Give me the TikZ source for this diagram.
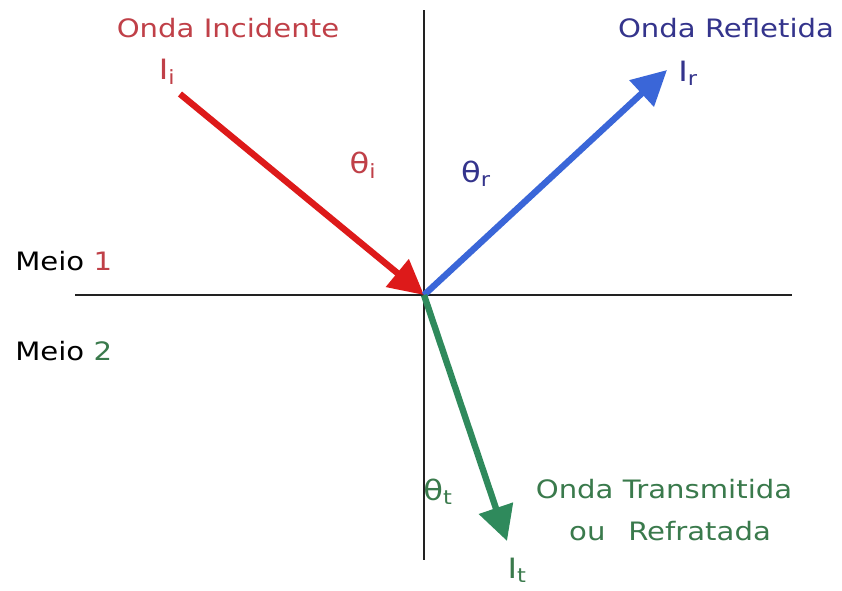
\documentclass[tikz,border=0pt]{standalone}
\usepackage{fontspec}
\setmainfont[FakeStretch=1.15]{DejaVu Sans}
\usetikzlibrary{arrows.meta}
\definecolor{rarrow}{HTML}{DD1A1A}
\definecolor{barrow}{HTML}{3A66D8}
\definecolor{garrow}{HTML}{2F8A5C}
\definecolor{rtext}{HTML}{C04048}
\definecolor{btext}{HTML}{34348C}
\definecolor{gtext}{HTML}{3A7A4C}
\definecolor{axis}{HTML}{222222}
\begin{document}
\begin{tikzpicture}[x=0.75pt,y=-0.75pt,
  axisline/.style={draw=axis,line width=1.5pt},
  ray/.style={line width=4.8pt,-{Triangle[length=26pt,width=26pt]}},
  lbl/.style={inner sep=0pt,font=\fontsize{19}{22}\selectfont},
  sym/.style={inner sep=0pt,font=\fontsize{21}{24}\selectfont}]
\useasboundingbox (0,0) rectangle (842,590);
\fill[white] (0,0) rectangle (842,590);
\coordinate (O) at (424,295);
\coordinate (ytop) at (424,10);
\coordinate (ybot) at (424,560);
\coordinate (xl) at (75,295);
\coordinate (xr) at (792,295);
\coordinate (istart) at (180,94);
\coordinate (rend) at (667,70);
\coordinate (tend) at (507,541);
\draw[axisline] (ytop) -- (ybot);
\draw[axisline] (xl) -- (xr);
\draw[ray,draw=rarrow,fill=rarrow] (istart) -- (O);
\draw[ray,draw=barrow,fill=barrow] (O) -- (rend);
\draw[ray,draw=garrow,fill=garrow] (O) -- (tend);
\node[lbl,text=rtext] (oinc) at (228,28) {Onda Incidente};
\node[sym,text=rtext] (ii) at (167,72) {I\textsubscript{i}};
\node[sym,text=rtext] (thi) at (363,165) {θ\textsubscript{i}};
\node[lbl,text=btext] (oref) at (726,28) {Onda Refletida};
\node[sym,text=btext] (ir) at (688,73) {I\textsubscript{r}};
\node[sym,text=btext] (thr) at (476,174) {θ\textsubscript{r}};
\node[lbl,anchor=west] (m1) at (15,261) {Meio \textcolor{rtext}{1}};
\node[lbl,anchor=west] (m2) at (15,351) {Meio \textcolor{gtext}{2}};
\node[sym,text=gtext] (tht) at (438,492) {θ\textsubscript{t}};
\node[lbl,text=gtext] (otr) at (664,489) {Onda Transmitida};
\node[lbl,text=gtext] (oref2) at (670,531) {ou\hspace{0.9em}Refratada};
\node[sym,text=gtext] (it) at (517,570) {I\textsubscript{t}};
\end{tikzpicture}
\end{document}
